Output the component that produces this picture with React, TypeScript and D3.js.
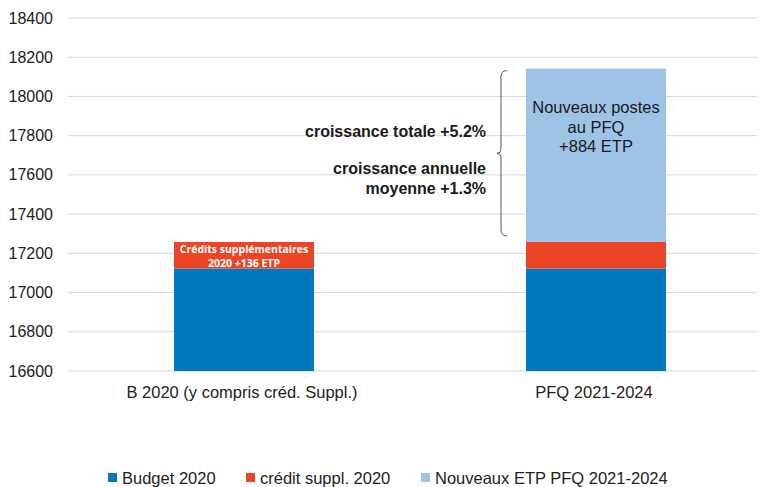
import React from "react";
import * as d3 from "d3";

const categories = ["B 2020 (y compris créd. Suppl.)", "PFQ 2021-2024"];
const seriesNames = ["Budget 2020", "crédit suppl. 2020", "Nouveaux ETP PFQ 2021-2024"];
const budget2020 = [17122, 17122];
const creditSuppl = [136, 136];
const nouveauxEtp = [0, 884];
const yTicks = [16600, 16800, 17000, 17200, 17400, 17600, 17800, 18000, 18200, 18400];
const colors = ["#0079C1", "#EA4526", "#9DC3E6"];

const W = 767;
const H = 487;
const left = 68;
const right = 757;
const top = 18;
const bottom = 371;

export default function App() {
  const y = d3.scaleLinear().domain([16600, 18400]).range([bottom, top]).clamp(true);
  const x = d3.scaleBand().domain(categories).range([left, 772]).paddingInner(0.6).paddingOuter(0.3);
  const bw = 140;

  const rows = categories.map((c, i) => ({
    cat: c,
    b: budget2020[i],
    s: creditSuppl[i],
    n: nouveauxEtp[i],
  }));
  const stack = d3.stack<any>().keys(["b", "s", "n"])(rows);

  const cx = (c: string) => (x(c) as number) + x.bandwidth() / 2;
  const font = "'Liberation Sans', Arial, sans-serif";

  const pfq = rows[1];
  const braceTop = y(pfq.b + pfq.s + pfq.n) + 2;
  const braceBot = y(pfq.b + pfq.s) - 6;
  const braceMid = (braceTop + braceBot) / 2;
  const bx = 501;

  const legendX = [108, 246, 421];

  return (
    <svg width={W} height={H} style={{ position: "absolute", left: 0, top: 0, background: "#fff" }}>
      <g>
        {yTicks.map((t) => (
          <g key={t}>
            <line x1={left} x2={right} y1={y(t)} y2={y(t)} stroke="#d9d9d9" strokeWidth={1} />
            <text x={53} y={y(t)} dy="0.35em" textAnchor="end" fontFamily={font} fontSize={16} fill="#222">
              {t}
            </text>
          </g>
        ))}
      </g>
      <g>
        {stack.map((layer, li) =>
          layer.map((d, i) => {
            const c = categories[i];
            const y0 = y(d[0]);
            const y1 = y(d[1]);
            if (y0 - y1 <= 0) return null;
            return (
              <rect
                key={li + "-" + i}
                x={cx(c) - bw / 2}
                y={y1}
                width={bw}
                height={y0 - y1}
                fill={colors[li]}
              />
            );
          })
        )}
      </g>
      {categories.map((c) => (
        <text key={c} x={cx(c) - 2} y={392} dy="0.35em" textAnchor="middle" fontFamily={font} fontSize={16.5} fill="#222">
          {c}
        </text>
      ))}
      <g fontFamily="'Open Sans', sans-serif" fontWeight="bold" fontSize={10.5} fill="#fff" textAnchor="middle">
        <text x={cx(categories[0])} y={249} dy="0.35em">Crédits supplémentaires</text>
        <text x={cx(categories[0])} y={263} dy="0.35em">2020 +136 ETP</text>
      </g>
      <g fontFamily={font} fontSize={16.5} fill="#1a1a1a" textAnchor="middle">
        <text x={cx(categories[1])} y={107} dy="0.35em">Nouveaux postes</text>
        <text x={cx(categories[1])} y={127} dy="0.35em">au PFQ</text>
        <text x={cx(categories[1])} y={146} dy="0.35em">+884 ETP</text>
      </g>
      <path
        d={`M${bx + 6},${braceTop} Q${bx},${braceTop} ${bx},${braceTop + 6} L${bx},${braceMid - 4} Q${bx},${braceMid} ${bx - 4},${braceMid} Q${bx},${braceMid} ${bx},${braceMid + 4} L${bx},${braceBot - 6} Q${bx},${braceBot} ${bx + 6},${braceBot}`}
        fill="none"
        stroke="#555"
        strokeWidth={1}
      />
      <g fontFamily={font} fontSize={16} fontWeight="bold" fill="#1a1a1a" textAnchor="end">
        <text x={486} y={131} dy="0.35em">croissance totale +5.2%</text>
        <text x={486} y={168} dy="0.35em">croissance annuelle</text>
        <text x={486} y={188} dy="0.35em">moyenne  +1.3%</text>
      </g>
      <g fontFamily={font} fontSize={16.5} fill="#222">
        {seriesNames.map((s, i) => (
          <g key={s}>
            <rect x={legendX[i]} y={473} width={9} height={9} fill={colors[i]} />
            <text x={legendX[i] + 14} y={478} dy="0.35em">{s}</text>
          </g>
        ))}
      </g>
    </svg>
  );
}
